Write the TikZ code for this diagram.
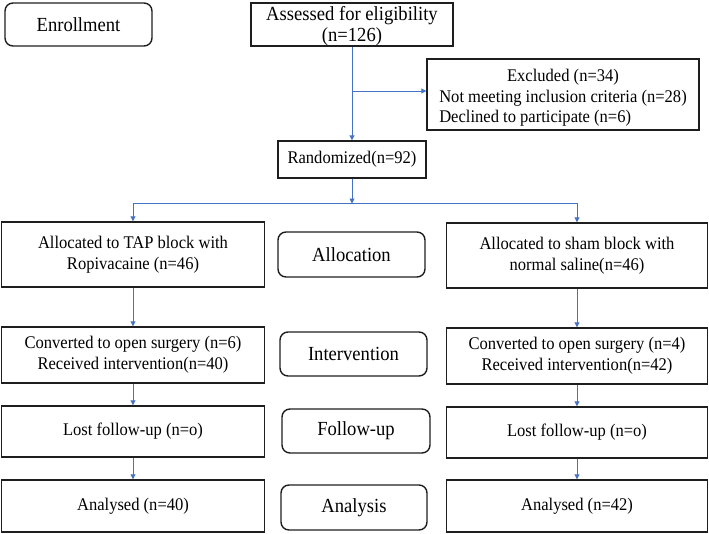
\documentclass[tikz,border=0pt]{standalone}
\usepackage{fontspec}
\setmainfont[FakeStretch=0.93]{Liberation Serif}
\usetikzlibrary{arrows.meta}
\definecolor{flowblue}{RGB}{68,114,196}
\definecolor{boxline}{RGB}{30,30,30}
\newcommand{\bodyfont}{\fontsize{17.8}{21}\selectfont}
\newcommand{\stagefont}{\fontsize{20}{21}\selectfont}
\tikzset{
  box/.style={draw=boxline, line width=1.4pt, inner sep=0pt, align=center, font=\bodyfont},
  stage/.style={box, rounded corners=8pt, font=\stagefont},
  arr/.style={draw=flowblue, line width=0.9pt, -{Triangle[length=5pt,width=5pt]}},
}
\begin{document}
\begin{tikzpicture}[x=1pt,y=-1pt]
\useasboundingbox (0,0) rectangle (709,533);
% enrollment stage
\node[stage, minimum width=147pt, minimum height=43pt] (enroll) at (78.5,24.5) {Enrollment};
\node[box, font=\stagefont, minimum width=202pt, minimum height=43pt] (assess) at (352,24.5)
  {\raisebox{-2.5pt}[\height][\depth]{\begin{tabular}{@{}c@{}}Assessed for eligibility\\(n=126)\end{tabular}}};
\node[box, minimum width=272pt, minimum height=71pt] (excl) at (563,94.5)
  {\raisebox{-3.5pt}[\height][\depth]{\renewcommand{\arraystretch}{0.97}\begin{tabular}{@{}l@{}}\multicolumn{1}{@{}c@{}}{Excluded (n=34)}\\ Not meeting inclusion criteria (n=28)\\ Declined to participate (n=6)\end{tabular}}};
\node[box, minimum width=148pt, minimum height=37pt] (rand) at (352,159.5) {Randomized(n=92)};
% allocation
\node[box, minimum width=263pt, minimum height=65pt] (allL) at (133,254.5) {Allocated to TAP block with\\Ropivacaine (n=46)};
\node[stage, minimum width=147pt, minimum height=45pt] (alloc) at (351.5,254.5) {Allocation};
\node[box, minimum width=261pt, minimum height=65pt] (allR) at (577,255.5) {Allocated to sham block with\\normal saline(n=46)};
% intervention
\node[box, minimum width=263pt, minimum height=56pt] (convL) at (133,355) {Converted to open surgery (n=6)\\Received intervention(n=40)};
\node[stage, minimum width=147pt, minimum height=44pt] (interv) at (353.5,354) {Intervention};
\node[box, minimum width=261pt, minimum height=56pt] (convR) at (577,356) {Converted to open surgery (n=4)\\Received intervention(n=42)};
% follow-up
\node[box, minimum width=263pt, minimum height=51pt] (lostL) at (133,431.5) {Lost follow-up (n=o)};
\node[stage, minimum width=148pt, minimum height=44pt] (follow) at (356,431) {Follow-up};
\node[box, minimum width=261pt, minimum height=51pt] (lostR) at (577,432.5) {Lost follow-up (n=o)};
% analysis
\node[box, minimum width=263pt, minimum height=52pt] (anaL) at (133,506) {Analysed (n=40)};
\node[stage, minimum width=146pt, minimum height=45pt] (analysis) at (354,507.5) {Analysis};
\node[box, minimum width=261pt, minimum height=52pt] (anaR) at (577,506) {Analysed (n=42)};
% connectors
\draw[arr] (assess) -- (rand);
\coordinate (br) at (352,91);
\draw[arr] (br) -- (br -| excl.west);
\coordinate (junc) at (352,203.5);
\draw[arr] (rand) -- (junc);
\draw[arr] (junc) -| (allL.north);
\draw[arr] (junc) -| (allR.north);
\draw[arr] (allL) -- (convL);
\draw[arr] (allR) -- (convR);
\draw[arr] (convL) -- (lostL);
\draw[arr] (convR) -- (lostR);
\draw[arr] (lostL) -- (anaL);
\draw[arr] (lostR) -- (anaR);
\end{tikzpicture}
\end{document}
